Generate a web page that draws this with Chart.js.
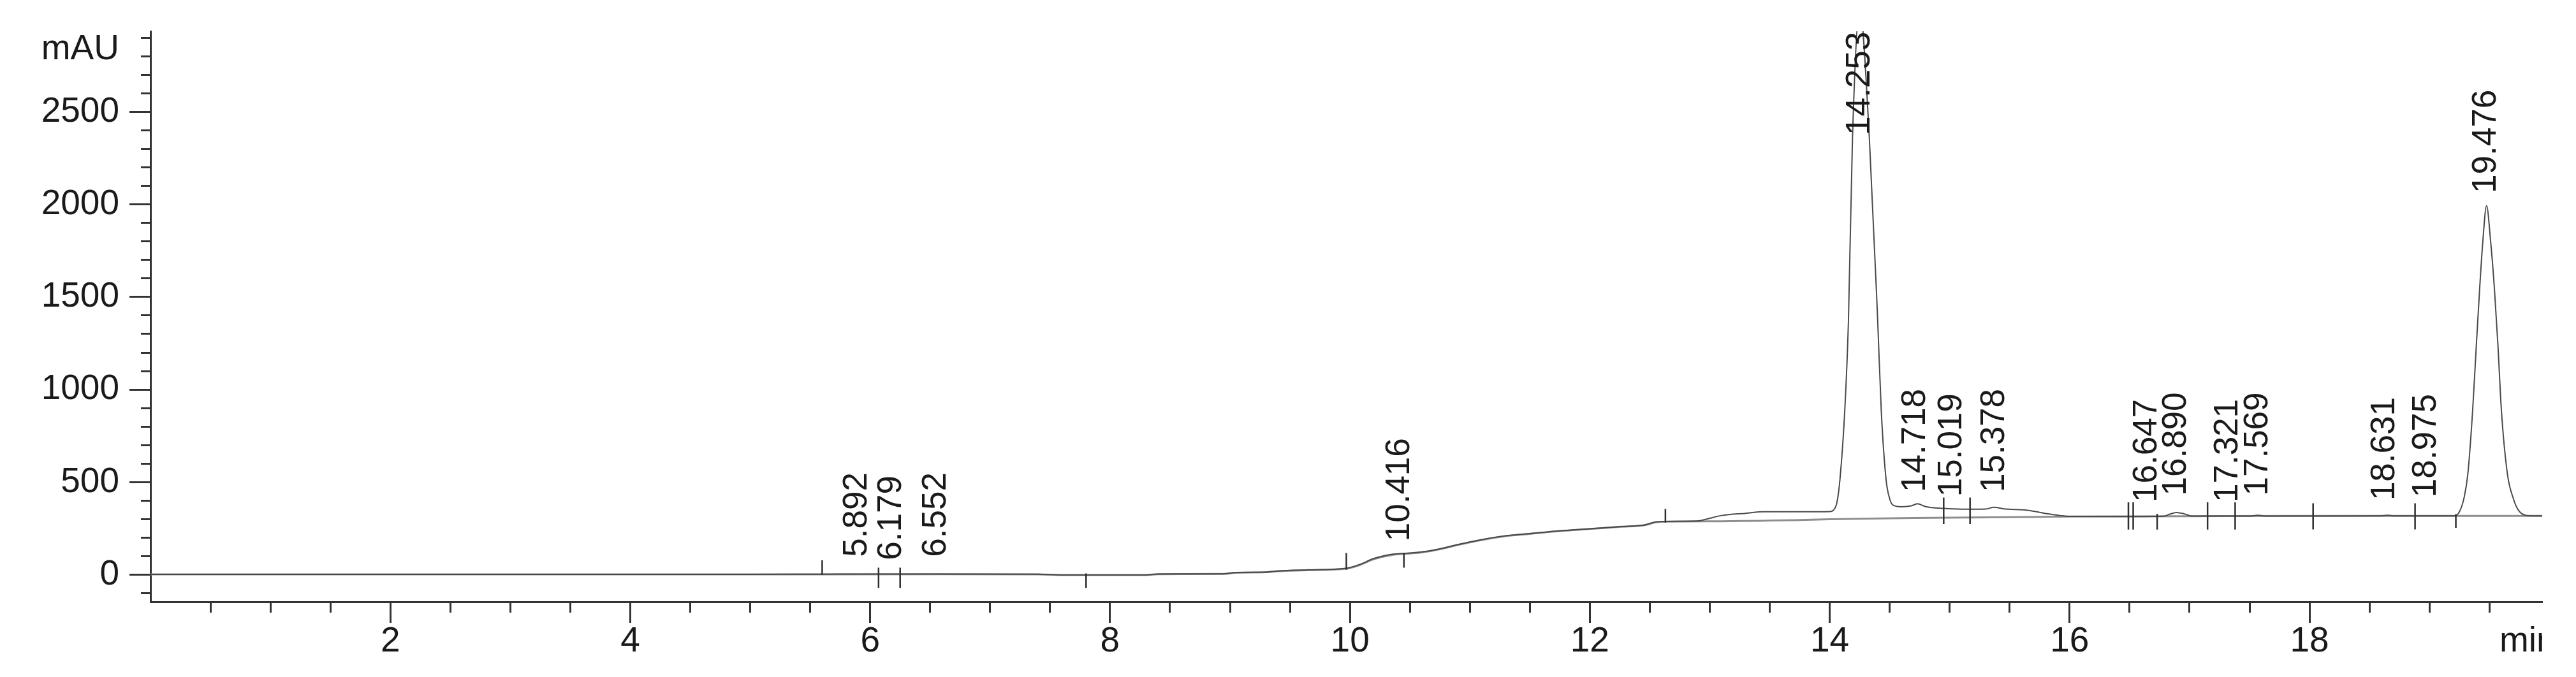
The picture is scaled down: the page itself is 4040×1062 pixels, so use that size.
<!DOCTYPE html>
<html>
<head>
<meta charset="utf-8">
<title>Chromatogram</title>
<script src="https://cdn.jsdelivr.net/npm/chart.js@4.4.1/dist/chart.umd.min.js"></script>
<style>
  html, body { margin: 0; padding: 0; background: #fff; }
  canvas { display: block; }
</style>
</head>
<body>
<canvas id="chrom" width="4040" height="1062"></canvas>
<script>
// signal trace, retention time (min) / absorbance (mAU)
let signalTime = [0, 5.0, 5.6, 6.0, 6.6, 7.4, 7.6, 8.3, 8.4, 8.95, 9.05, 9.3, 9.4, 9.65, 9.97, 10.08, 10.2, 10.36, 10.5, 10.6,
  10.75, 10.9, 11.1, 11.28, 11.5, 11.75, 12.0, 12.26, 12.45, 12.55, 12.63, 12.9, 12.97, 13.1, 13.3, 13.45, 13.8, 14.0,
  14.03, 14.06, 14.085, 14.125, 14.156, 14.19, 14.25, 14.33, 14.40, 14.43, 14.47, 14.50, 14.53, 14.6, 14.68, 14.73,
  14.8, 14.95, 15.1, 15.3, 15.37, 15.45, 15.65, 15.82, 15.92, 16.0, 16.4, 16.78, 16.84, 16.89, 16.95, 17.02, 17.5,
  17.57, 17.64, 18.6, 18.65, 18.7, 19.21, 19.25, 19.29, 19.32, 19.36, 19.39, 19.42, 19.445, 19.476, 19.51, 19.54,
  19.57, 19.60, 19.65, 19.70, 19.74, 19.81, 19.94];
let signalMAU = [2, 2, 3, 4, 4, 3, -1, -1, 4, 5, 12, 14, 20, 26, 35, 55, 88, 111, 117, 123,
  140, 163, 190, 209, 222, 237, 248, 260, 268, 285, 288, 290, 300, 320, 332, 340, 340, 341,
  348, 390, 513, 882, 1369, 2363, 3050, 2363, 1369, 882, 513, 410, 375, 367, 372, 383,
  368, 358, 354, 355, 364, 356, 348, 329, 320, 315, 314, 316, 328, 336, 330, 317, 317,
  321, 317, 318, 321, 318, 318, 340, 420, 544, 886, 1230, 1560, 1800, 1993, 1800, 1560,
  1250, 886, 544, 410, 350, 320, 318];

// drawn baseline trace
let baseTime = [0, 5.0, 6.6, 7.4, 7.6, 8.3, 8.4, 8.95, 9.05, 9.3, 9.4, 9.65, 9.97, 10.08, 10.2, 10.36, 10.5, 10.6, 10.75,
  10.9, 11.1, 11.28, 11.5, 11.75, 12.0, 12.26, 12.45, 12.55, 12.63, 13.1, 13.8, 14.0, 14.7, 15.5, 16.0, 17.0, 18.0, 19.94];
let baseMAU = [2, 2, 3, 2, -1, -1, 3, 5, 11, 14, 19, 25, 33, 52, 84, 108, 115, 121, 138,
  161, 188, 207, 221, 236, 247, 259, 267, 283, 287, 289, 296, 300, 307, 311, 314, 316, 318, 318];

// peak retention time labels and the height (mAU) where each label starts
let peakLabels = ['5.892', '6.179', '6.552', '10.416', '14.253', '14.718', '15.019', '15.378',
  '16.647', '16.890', '17.321', '17.569', '18.631', '18.975', '19.476'];
let peakLabelY = [96, 79, 96, 180, 2374, 446, 421, 446, 391, 427, 391, 427, 401, 418, 2061];

// integration event marks
let markerTime = [5.60, 6.07, 6.25, 7.80, 9.97, 10.45, 12.63, 14.95, 15.17, 16.49, 16.53, 16.73, 17.15, 17.38, 18.03, 18.88, 19.22];
let markerLow = [0, -71, -71, -71, 27, 38, 282, 274, 274, 244, 244, 244, 244, 244, 245, 245, 253];
let markerHigh = [79, 38, 38, 7, 117, 117, 356, 417, 417, 391, 391, 329, 391, 391, 386, 386, 327];

// axes
let xRange = [0, 19.94];
let yRange = [-146, 2935];
let xMajor = [2, 4, 6, 8, 10, 12, 14, 16, 18];
let yMajor = [0, 500, 1000, 1500, 2000, 2500];

let xTicks = [];
for (let i = 1; i <= 39; i++) xTicks.push(i * 0.5);
let yTicks = [];
for (let v = -100; v <= 2900; v += 100) yTicks.push(v);

const FONT = '"Liberation Sans", Arial, sans-serif';

let markerPoints = [];
markerTime.forEach(function(t, i){
    markerPoints.push({x: t, y: markerLow[i]}, {x: t, y: markerHigh[i]}, {x: t, y: null});
});

let textPlugin = {
    id: 'texts',
    afterDatasetsDraw(chart){
        const ctx = chart.ctx;
        const xs = chart.scales.x;
        const ys = chart.scales.y;
        ctx.save();
        ctx.fillStyle = '#1a1a1a';
        ctx.font = '53px ' + FONT;
        ctx.textAlign = 'left';
        ctx.textBaseline = 'middle';
        peakLabels.forEach(function(lab, i){
            ctx.save();
            ctx.translate(xs.getPixelForValue(parseFloat(lab)), ys.getPixelForValue(peakLabelY[i]));
            ctx.rotate(-Math.PI / 2);
            ctx.fillText(lab, 0, 0);
            ctx.restore();
        });
        // axis units
        ctx.font = '55px ' + FONT;
        ctx.textAlign = 'right';
        ctx.fillText('mAU', ys.right - 33 - 16, chart.chartArea.top + 29);
        ctx.beginPath();
        ctx.rect(0, 0, chart.chartArea.right, chart.height);
        ctx.clip();
        ctx.textAlign = 'left';
        ctx.fillText('min', chart.chartArea.right - 67, xs.top + 63);
        ctx.restore();
    }
};

let chart = new Chart(document.getElementById('chrom'), {
    type: 'line',
    data: {
        datasets: [{
            label: 'signal',
            data: signalTime.map((t, i) => ({x: t, y: signalMAU[i]})),
            borderColor: '#4a4a4a',
            borderWidth: 2,
            cubicInterpolationMode: 'monotone',
            order: 1
        }, {
            label: 'baseline',
            data: baseTime.map((t, i) => ({x: t, y: baseMAU[i]})),
            borderColor: '#8e8e8e',
            borderWidth: 3,
            cubicInterpolationMode: 'monotone',
            order: 2
        }, {
            label: 'events',
            data: markerPoints,
            borderColor: '#2e2e2e',
            borderWidth: 2.5,
            spanGaps: false,
            order: 0
        }]
    },
    options: {
        responsive: false,
        animation: false,
        devicePixelRatio: 1,
        elements: { point: { radius: 0 } },
        layout: { padding: { top: 43, right: 53, left: 0, bottom: 0 } },
        plugins: { legend: { display: false }, tooltip: { enabled: false } },
        scales: {
            x: {
                type: 'linear',
                min: xRange[0],
                max: xRange[1],
                afterBuildTicks: (axis) => { axis.ticks = xTicks.map(v => ({value: v})); },
                afterFit: (s) => { s.height = 118; },
                border: { display: true, color: '#333', width: 3 },
                grid: {
                    drawOnChartArea: false,
                    tickLength: 33,
                    tickWidth: 3,
                    tickColor: '#333',
                    tickBorderDash: (c) => xMajor.includes(c.tick.value) ? [] : [15, 100]
                },
                ticks: {
                    autoSkip: false,
                    maxRotation: 0,
                    padding: 0,
                    color: '#1a1a1a',
                    font: { family: FONT, size: 55, lineHeight: 1.1 },
                    callback: (v) => xMajor.includes(v) ? String(v) : ''
                }
            },
            y: {
                min: yRange[0],
                max: yRange[1],
                afterBuildTicks: (axis) => { axis.ticks = yTicks.map(v => ({value: v})); },
                afterFit: (s) => { s.width = 236; },
                border: { display: true, color: '#333', width: 3 },
                grid: {
                    drawOnChartArea: false,
                    tickLength: 33,
                    tickWidth: 3,
                    tickColor: '#333',
                    tickBorderDash: (c) => yMajor.includes(c.tick.value) ? [] : [0, 18, 15, 100]
                },
                ticks: {
                    autoSkip: false,
                    padding: 16,
                    color: '#1a1a1a',
                    font: { family: FONT, size: 55 },
                    callback: (v) => yMajor.includes(v) ? String(v) : ''
                }
            }
        }
    },
    plugins: [textPlugin]
});
</script>
</body>
</html>
